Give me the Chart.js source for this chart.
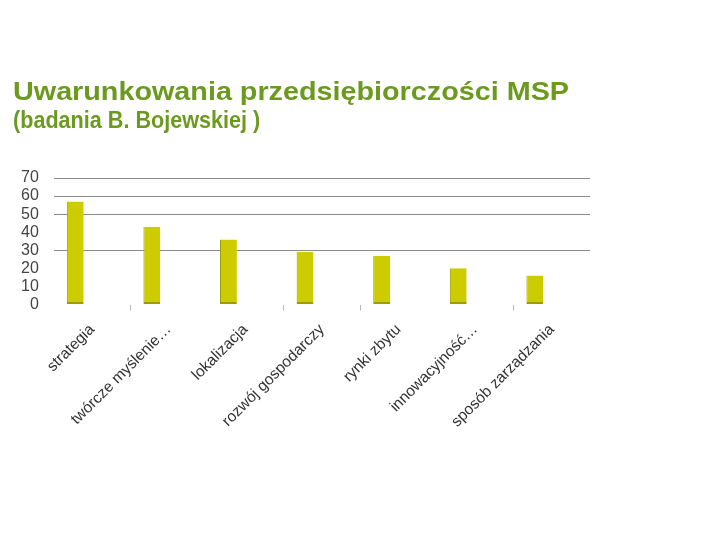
<!DOCTYPE html>
<html>
    <head>
        <meta charset="utf-8">
        <title>Uwarunkowania przedsiębiorczości MSP</title>
        <style>
            body { margin: 0; background: #fff; font-family: "Liberation Sans", Arial, sans-serif; }
            #wrap { position: relative; width: 720px; height: 540px; overflow: hidden; }
            #chart { position: absolute; left: 0; top: 0; }
            .title { position: absolute; left: 13px; top: 79px; font-size: 25px; line-height: 25px; font-weight: bold;
                     color: #6b9a1f; white-space: nowrap; transform: scaleX(1.15); transform-origin: 0 0; }
            .subtitle { position: absolute; left: 13px; top: 108px; font-size: 24px; line-height: 24px; font-weight: bold;
                        color: #6b9a1f; white-space: nowrap; transform: scaleX(0.9); transform-origin: 0 0; }
        </style>
    </head>
    <body>
        <div id="wrap">
            <canvas id="chart" width="720" height="540"></canvas>
            <div class="title">Uwarunkowania przedsiębiorczości MSP</div>
            <div class="subtitle">(badania B. Bojewskiej )</div>
        </div>
        <script src="https://cdn.jsdelivr.net/npm/chart.js"></script>
        <script>
            // data
            var categories = ['strategia', 'twórcze myślenie…', 'lokalizacja', 'rozwój gospodarczy',
                              'rynki zbytu', 'innowacyjność…', 'sposób zarządzania'];
            var values = [57, 43, 36, 29, 27, 20, 16];
            // the original sheet had two more (empty) series, they still take a slot in each group
            var emptySeries2 = [];
            var emptySeries3 = [];
            var yTicks = [0, 10, 20, 30, 40, 50, 60, 70];
            var visibleGrid = [30, 50, 60, 70];   // only these gridlines show in the picture
            var visibleTickMarks = [1, 3, 4, 6];

            var ctx = document.getElementById('chart').getContext('2d');
            var chart = new Chart(ctx, {
                type: 'bar',
                data: {
                    labels: categories,
                    datasets: [{
                        label: 'Seria 1',
                        data: values,
                        backgroundColor: '#cccc00',
                        borderColor: '#9c9c00',
                        borderWidth: { left: 1, right: 0, top: 0, bottom: 2 },
                        borderSkipped: false
                    }, {
                        label: 'Seria 2',
                        data: emptySeries2
                    }, {
                        label: 'Seria 3',
                        data: emptySeries3
                    }]
                },
                options: {
                    responsive: false,
                    devicePixelRatio: 1,
                    animation: false,
                    layout: { padding: { top: 178, left: 6, right: 130, bottom: 109 } },
                    datasets: { bar: { barPercentage: 1, categoryPercentage: 0.66 } },
                    plugins: { legend: { display: false }, tooltip: { enabled: false } },
                    scales: {
                        x: {
                            border: { display: false },
                            grid: {
                                drawOnChartArea: false,
                                tickLength: 6,
                                color: function(c) {
                                    return visibleTickMarks.indexOf(c.index) >= 0 ? '#b8b8b8' : 'transparent';
                                }
                            },
                            ticks: {
                                minRotation: 45, maxRotation: 45, autoSkip: false,
                                color: '#333', padding: 10, labelOffset: 0,
                                font: { family: '"Liberation Sans", Arial', size: 15.5 }
                            }
                        },
                        y: {
                            min: 0, max: 70,
                            border: { display: false },
                            afterBuildTicks: function(axis) {
                                axis.ticks = yTicks.map(function(v) { return { value: v }; });
                            },
                            grid: {
                                drawTicks: false,
                                lineWidth: 1,
                                color: function(c) {
                                    return c.tick && visibleGrid.indexOf(c.tick.value) >= 0 ? '#8a8a8a' : 'transparent';
                                }
                            },
                            ticks: {
                                autoSkip: false,
                                padding: 15, color: '#444',
                                font: { family: '"Liberation Sans", Arial', size: 16 }
                            }
                        }
                    }
                }
            });
        </script>
    </body>
</html>
